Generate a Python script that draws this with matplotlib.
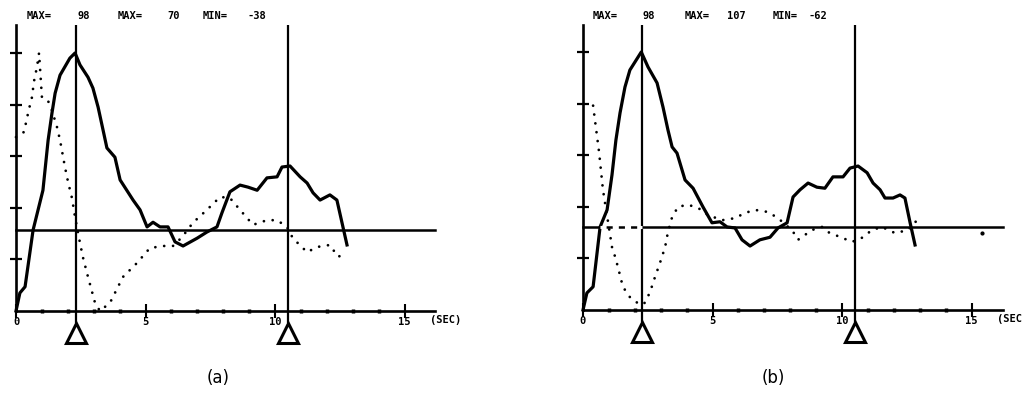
import matplotlib.pyplot as plt

# ---- panel (a) ----
a_solid_t = [0.0, 0.15, 0.35, 0.66, 1.04, 1.24, 1.39, 1.51, 1.70, 2.08, 2.28, 2.47, 2.78, 2.97,
             3.17, 3.36, 3.51, 3.82, 4.02, 4.52, 4.79, 5.06, 5.29, 5.56, 5.87, 6.14, 6.45, 6.99,
             7.37, 7.76, 7.95, 8.26, 8.65, 8.96, 9.31, 9.69, 10.08, 10.27, 10.58, 10.97, 11.24,
             11.47, 11.74, 12.12, 12.39, 12.78]
a_solid_v = [0.0, 0.35, 0.47, 1.57, 2.34, 3.31, 3.84, 4.22, 4.57, 4.90, 5.00, 4.77, 4.53, 4.32,
             3.95, 3.51, 3.16, 2.98, 2.54, 2.15, 1.96, 1.63, 1.72, 1.63, 1.63, 1.34, 1.26, 1.41,
             1.53, 1.63, 1.90, 2.31, 2.44, 2.40, 2.34, 2.58, 2.60, 2.79, 2.81, 2.60, 2.48,
             2.29, 2.15, 2.25, 2.15, 1.28]
a_dot_t = [0.0, 0.31, 0.39, 0.50, 0.62, 0.69, 0.81, 0.89, 1.00, 1.20, 1.35, 1.58, 1.70, 1.89,
           2.01, 2.16, 2.28, 2.47, 2.59, 2.78, 3.05, 3.24, 3.63, 4.13, 4.67, 5.17, 5.68, 6.06,
           6.41, 6.83, 7.37, 7.88, 8.26, 8.65, 9.15, 9.69, 10.08, 10.46, 10.69, 11.24, 11.62,
           12.12, 12.43, 12.63]
a_dot_v = [3.37, 3.47, 3.66, 3.91, 4.15, 4.44, 4.73, 5.00, 4.15, 4.11, 3.95, 3.57, 3.31, 2.79,
           2.50, 2.19, 1.82, 1.32, 1.03, 0.66, 0.16, 0.0, 0.16, 0.66, 0.93, 1.22, 1.26, 1.26,
           1.43, 1.71, 1.96, 2.21, 2.19, 1.96, 1.67, 1.76, 1.76, 1.63, 1.41, 1.14, 1.24,
           1.28, 1.05, 1.09]
a_markers = [2.3, 10.5]
a_ref = 1.57
a_header = ["MAX=", "98", "MAX=", "70", "MIN=", "-38"]
a_header_t = [0.42, 2.36, 3.94, 5.83, 7.22, 8.92]
a_sec = "(SEC)"

# ---- panel (b) ----
b_solid_t = [0.0, 0.15, 0.39, 0.66, 0.93, 1.12, 1.27, 1.43, 1.62, 1.81, 2.25, 2.51, 2.86, 3.09,
             3.28, 3.44, 3.63, 3.94, 4.25, 4.63, 4.98, 5.29, 5.56, 5.87, 6.14, 6.45, 6.83, 7.22,
             7.53, 7.88, 8.11, 8.38, 8.69, 9.03, 9.34, 9.65, 10.04, 10.31, 10.62, 10.97, 11.20,
             11.47, 11.66, 11.97, 12.24, 12.43, 12.63, 12.82]
b_solid_v = [0.0, 0.33, 0.45, 1.61, 1.94, 2.62, 3.29, 3.82, 4.32, 4.65, 5.00, 4.71, 4.40, 3.93,
             3.49, 3.16, 3.04, 2.52, 2.36, 2.00, 1.69, 1.71, 1.61, 1.59, 1.36, 1.24, 1.36, 1.41,
             1.59, 1.69, 2.19, 2.33, 2.46, 2.38, 2.36, 2.58, 2.58, 2.75, 2.79, 2.66, 2.46,
             2.33, 2.17, 2.17, 2.23, 2.17, 1.69, 1.26]
b_dot_t = [0.39, 0.50, 0.62, 0.77, 1.12, 1.24, 1.35, 1.54, 1.81, 2.20, 2.39, 2.59, 2.78, 2.97,
           3.17, 3.28, 3.44, 3.67, 4.05, 4.44, 4.83, 5.37, 5.87, 6.25, 6.64, 7.14, 7.53, 7.92,
           8.07, 8.30, 8.84, 9.23, 9.46, 10.00, 10.39, 10.77, 11.16, 11.54, 12.05, 12.55, 12.82,
           12.94]
b_dot_v = [3.96, 3.53, 3.06, 2.33, 1.22, 1.03, 0.83, 0.45, 0.25, 0.10, 0.14, 0.35, 0.64, 0.91,
           1.22, 1.51, 1.80, 2.00, 2.04, 1.98, 1.84, 1.74, 1.78, 1.88, 1.94, 1.90, 1.78, 1.61,
           1.55, 1.36, 1.55, 1.61, 1.51, 1.40, 1.32, 1.40, 1.55, 1.61, 1.49, 1.55, 1.71,
           1.71]
b_stray_t = [15.41]
b_stray_v = [1.49]
b_markers = [2.28, 10.5]
b_ref = 1.61
b_ref_dash = [0.66, 2.28]
b_header = ["MAX=", "98", "MAX=", "107", "MIN=", "-62"]
b_header_t = [0.39, 2.28, 3.94, 5.56, 7.34, 8.69]
b_sec = "(SEC"   # cut at the page edge in the original

xtick_major = [0, 5, 10, 15]
xtick_labels = ["0", "5", "10", "15"]
xtick_minor = list(range(1, 15))
ytick_vals = [1, 2, 3, 4, 5]

W, H = 1026, 412
PX_S = 25.9      # pixels per second
PX_U = 51.6      # pixels per y tick unit

mono = dict(fontfamily="DejaVu Sans Mono", fontweight="bold", fontsize=7.5)


def draw_panel(fig, left_px, right_px, x0_px, base_px, solid, dots, markers, ref,
               header, header_t, sec, ytop, xend):
    ax = fig.add_axes([left_px / W, 0, (right_px - left_px) / W, 1])
    ax.patch.set_alpha(0)
    ax.set_xlim((left_px - x0_px) / PX_S, (right_px - x0_px) / PX_S)
    ax.set_ylim(-(H - base_px) / PX_U, base_px / PX_U)

    for s in ["top", "right"]:
        ax.spines[s].set_visible(False)
    ax.spines["left"].set_position(("data", 0))
    ax.spines["left"].set_bounds(0, ytop)
    ax.spines["bottom"].set_position(("data", 0))
    ax.spines["bottom"].set_bounds(0, xend)
    for s in ["left", "bottom"]:
        ax.spines[s].set_linewidth(1.9)

    ax.set_yticks(ytick_vals)
    ax.set_yticklabels([])
    ax.tick_params(axis="y", direction="inout", length=8.6, width=1.6)
    ax.set_xticks(xtick_major)
    ax.set_xticklabels(xtick_labels, **mono)
    ax.set_xticks(xtick_minor, minor=True)
    ax.tick_params(axis="x", which="major", direction="inout", length=10, width=1.5, pad=-1)
    ax.tick_params(axis="x", which="minor", direction="inout", length=3, width=2.5)
    ax.text(15.98, -0.17, sec, ha="left", va="center", **mono)

    # reference line and cursor lines
    ax.plot([0, xend], [ref, ref], color="k", lw=1.8)
    ax.vlines(markers, -0.23, ytop, color="k", lw=1.6)
    ax.plot(markers, [-0.43] * len(markers), ls="none", marker="^", ms=15,
            mfc="white", mec="k", mew=2.2, clip_on=False)

    # traces
    ax.plot(solid[0], solid[1], color="k", lw=2.3, solid_joinstyle="round")
    ax.plot(dots[0], dots[1], color="k", lw=2.0, linestyle=(0, (0.01, 3.2)),
            dash_capstyle="round")

    for s, t in zip(header, header_t):
        ax.text(t, (base_px - 16) / PX_U, s, ha="left", va="center", **mono)
    return ax


fig = plt.figure(figsize=(W / 100, H / 100), dpi=100)

draw_panel(fig, 0, 510, 16, 311, (a_solid_t, a_solid_v), (a_dot_t, a_dot_v),
           a_markers, a_ref, a_header, a_header_t, a_sec, 5.54, 16.18)
ax_b = draw_panel(fig, 550, 1026, 583, 310, (b_solid_t, b_solid_v), (b_dot_t, b_dot_v),
                  b_markers, b_ref, b_header, b_header_t, b_sec, 5.52, 16.2)
# dashed stretch of the reference line and a stray sample in (b)
ax_b.plot(b_ref_dash, [b_ref, b_ref], color="white", lw=2.2, linestyle=(0, (2, 2)))
ax_b.plot(b_stray_t, b_stray_v, ls="none", marker="o", ms=2, color="k")

fig.text(218 / W, 1 - 378 / H, "(a)", ha="center", va="center", fontsize=12,
         fontfamily="DejaVu Sans")
fig.text(773 / W, 1 - 378 / H, "(b)", ha="center", va="center", fontsize=12,
         fontfamily="DejaVu Sans")

fig.savefig("out.png", dpi=100)
